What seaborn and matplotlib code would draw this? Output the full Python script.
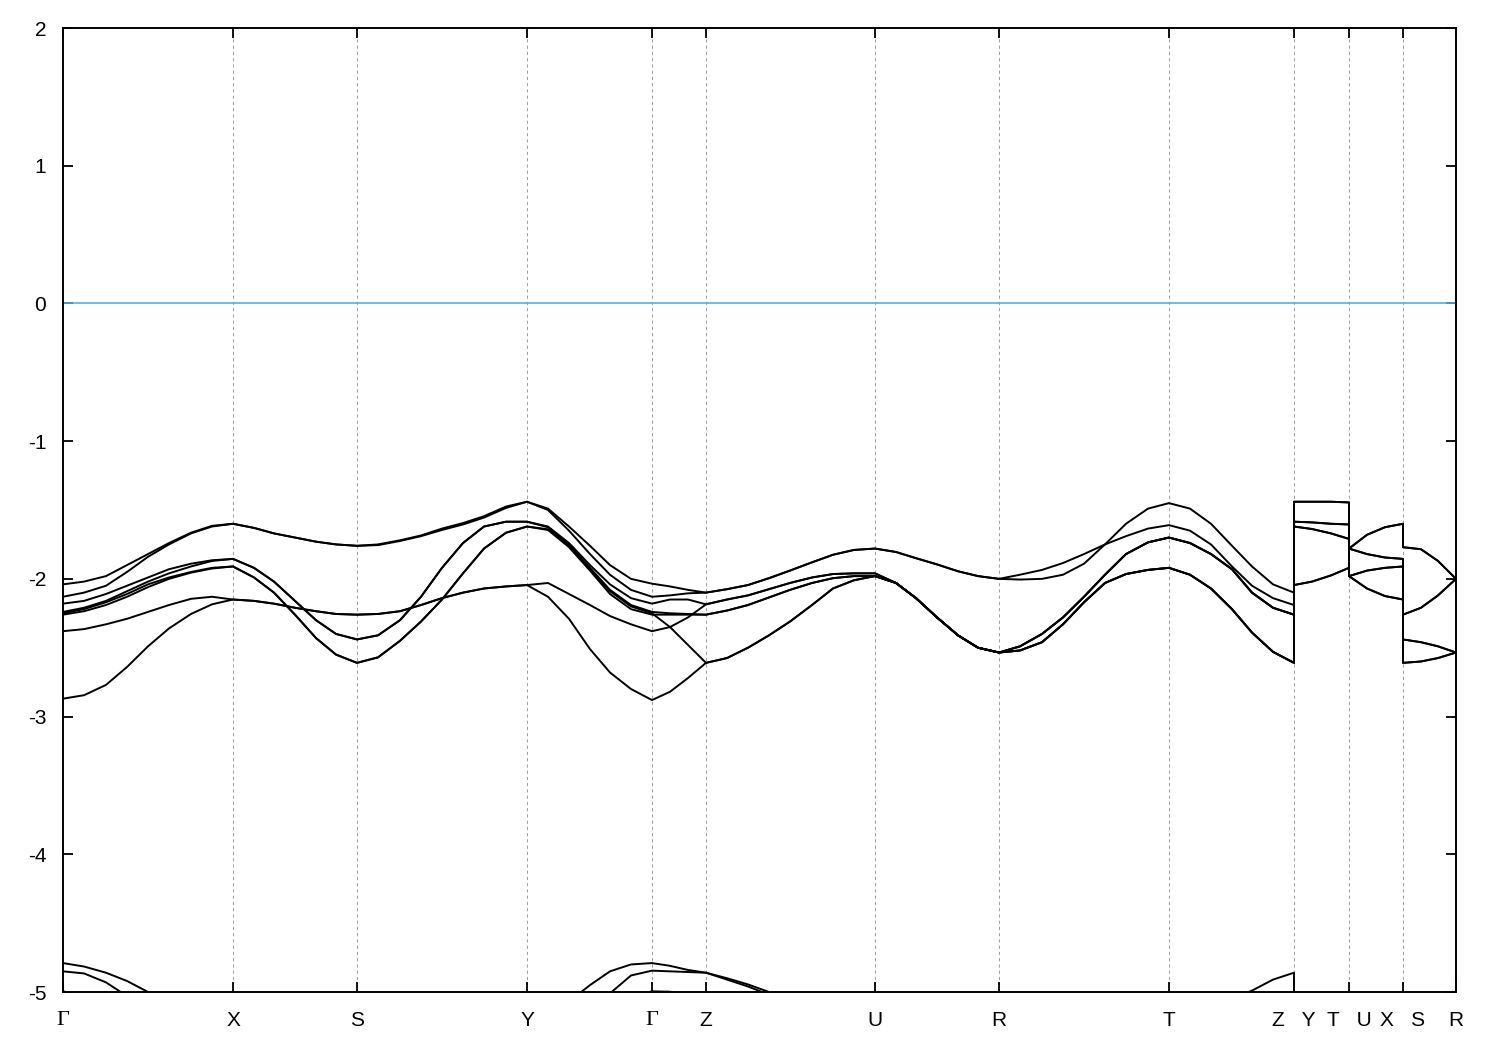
import matplotlib
matplotlib.use("Agg")
import matplotlib.pyplot as plt
import pandas as pd
import seaborn as sns

# high-symmetry points along the path
kpts = [0.00, 1.70, 2.94, 4.64, 5.89, 6.43, 8.12, 9.36, 11.06, 12.31, 12.86, 13.40, 13.93]
klabels = ["Γ", "X", "S", "Y", "Γ", "Z", "U", "R", "T", "Z   Y", "T   U", "X   S", "R"]

# sampled k positions (a repeated k is a jump at a break of the path)
k = [0.00, 0.21, 0.43, 0.64, 0.85, 1.06, 1.28, 1.49, 1.70,      # G-X
     1.91, 2.11, 2.32, 2.53, 2.73, 2.94,                        # X-S
     3.15, 3.37, 3.58, 3.79, 4.00, 4.21, 4.43, 4.64,            # S-Y
     4.85, 5.06, 5.27, 5.47, 5.68, 5.89,                        # Y-G
     6.07, 6.25, 6.43,                                          # G-Z
     6.64, 6.85, 7.06, 7.27, 7.49, 7.70, 7.91, 8.12,            # Z-U
     8.33, 8.53, 8.74, 8.95, 9.15, 9.36,                        # U-R
     9.57, 9.79, 10.00, 10.21, 10.42, 10.63, 10.85, 11.06,      # R-T
     11.27, 11.48, 11.69, 11.89, 12.10, 12.31,                  # T-Z
     12.31, 12.49, 12.68, 12.86,                                # Y-T
     12.86, 13.04, 13.22, 13.40,                                # U-X
     13.40, 13.58, 13.75, 13.93]                                # S-R

band1 = [-2.04, -2.02, -1.98, -1.90, -1.82, -1.74, -1.665, -1.615, -1.60,
         -1.63, -1.67, -1.70, -1.73, -1.75, -1.76,
         -1.75, -1.72, -1.685, -1.635, -1.595, -1.545, -1.475, -1.44,
         -1.49, -1.62, -1.76, -1.90, -2.00, -2.035,
         -2.055, -2.08, -2.10,
         -2.075, -2.045, -1.995, -1.94, -1.88, -1.825, -1.79, -1.78,
         -1.805, -1.85, -1.895, -1.945, -1.98, -2.00,
         -2.005, -2.00, -1.97, -1.89, -1.75, -1.60, -1.49, -1.45,
         -1.49, -1.60, -1.76, -1.91, -2.04, -2.10,
         -1.44, -1.44, -1.44, -1.445,
         -1.78, -1.68, -1.625, -1.60,
         -1.77, -1.785, -1.87, -2.00]
band2 = [-2.13, -2.10, -2.05, -1.95, -1.84, -1.75, -1.67, -1.62, -1.60,
         -1.63, -1.67, -1.70, -1.73, -1.75, -1.76,
         -1.755, -1.725, -1.69, -1.645, -1.605, -1.555, -1.485, -1.44,
         -1.50, -1.65, -1.82, -1.97, -2.08, -2.13,
         -2.12, -2.105, -2.10,
         -2.075, -2.045, -1.995, -1.94, -1.88, -1.825, -1.79, -1.78,
         -1.805, -1.85, -1.895, -1.945, -1.98, -2.00,
         -1.97, -1.935, -1.885, -1.82, -1.75, -1.69, -1.635, -1.61,
         -1.65, -1.75, -1.91, -2.05, -2.14, -2.19,
         -1.44, -1.44, -1.44, -1.445,
         -1.78, -1.68, -1.625, -1.60,
         -1.77, -1.785, -1.87, -2.00]
band3 = [-2.18, -2.16, -2.11, -2.05, -1.99, -1.93, -1.89, -1.865, -1.855,
         -1.92, -2.02, -2.16, -2.30, -2.40, -2.44,
         -2.41, -2.30, -2.13, -1.92, -1.74, -1.62, -1.585, -1.585,
         -1.62, -1.74, -1.90, -2.04, -2.14, -2.18,
         -2.15, -2.15, -2.185,
         -2.15, -2.12, -2.075, -2.03, -1.99, -1.965, -1.96, -1.96,
         -2.03, -2.14, -2.28, -2.41, -2.50, -2.535,
         -2.49, -2.40, -2.28, -2.13, -1.97, -1.82, -1.735, -1.70,
         -1.74, -1.82, -1.93, -2.10, -2.21, -2.26,
         -1.585, -1.59, -1.60, -1.605,
         -1.78, -1.82, -1.845, -1.855,
         -2.44, -2.46, -2.49, -2.535]
band4 = [-2.24, -2.21, -2.16, -2.09, -2.02, -1.96, -1.91, -1.87, -1.855,
         -1.92, -2.02, -2.16, -2.30, -2.40, -2.44,
         -2.41, -2.30, -2.13, -1.92, -1.74, -1.62, -1.585, -1.585,
         -1.625, -1.75, -1.92, -2.08, -2.19, -2.24,
         -2.25, -2.255, -2.26,
         -2.23, -2.19, -2.135, -2.08, -2.03, -1.995, -1.98, -1.98,
         -2.03, -2.14, -2.28, -2.41, -2.50, -2.535,
         -2.49, -2.40, -2.28, -2.13, -1.97, -1.82, -1.735, -1.70,
         -1.74, -1.82, -1.93, -2.10, -2.21, -2.26,
         -1.585, -1.59, -1.60, -1.605,
         -1.78, -1.82, -1.845, -1.855,
         -2.44, -2.46, -2.49, -2.535]
band5 = [-2.25, -2.22, -2.17, -2.11, -2.04, -1.99, -1.95, -1.92, -1.91,
         -1.99, -2.10, -2.26, -2.43, -2.55, -2.61,
         -2.57, -2.45, -2.31, -2.15, -1.96, -1.78, -1.665, -1.62,
         -1.64, -1.76, -1.93, -2.09, -2.20, -2.25,
         -2.35, -2.48, -2.61,
         -2.575, -2.50, -2.41, -2.31, -2.19, -2.07, -2.01, -1.98,
         -2.03, -2.14, -2.28, -2.41, -2.50, -2.535,
         -2.49, -2.40, -2.28, -2.13, -1.97, -1.82, -1.735, -1.70,
         -1.74, -1.82, -1.93, -2.10, -2.21, -2.26,
         -1.62, -1.638, -1.67, -1.71,
         -1.98, -1.94, -1.92, -1.91,
         -2.61, -2.60, -2.575, -2.535]
band6 = [-2.26, -2.235, -2.19, -2.13, -2.06, -2.00, -1.955, -1.925, -1.91,
         -1.99, -2.10, -2.26, -2.43, -2.55, -2.61,
         -2.57, -2.45, -2.31, -2.15, -1.96, -1.78, -1.665, -1.62,
         -1.645, -1.77, -1.94, -2.11, -2.22, -2.26,
         -2.26, -2.26, -2.26,
         -2.23, -2.19, -2.135, -2.08, -2.03, -1.995, -1.98, -1.98,
         -2.03, -2.14, -2.28, -2.41, -2.50, -2.535,
         -2.52, -2.46, -2.33, -2.17, -2.03, -1.965, -1.935, -1.92,
         -1.97, -2.07, -2.22, -2.39, -2.53, -2.61,
         -1.62, -1.638, -1.67, -1.71,
         -1.98, -1.94, -1.92, -1.91,
         -2.61, -2.60, -2.575, -2.535]
band7 = [-2.38, -2.365, -2.33, -2.29, -2.24, -2.19, -2.145, -2.13, -2.15,
         -2.16, -2.18, -2.21, -2.235, -2.255, -2.26,
         -2.255, -2.235, -2.19, -2.14, -2.10, -2.07, -2.055, -2.045,
         -2.03, -2.11, -2.19, -2.27, -2.33, -2.38,
         -2.35, -2.28, -2.185,
         -2.15, -2.12, -2.075, -2.03, -1.99, -1.965, -1.96, -1.96,
         -2.03, -2.14, -2.28, -2.41, -2.50, -2.535,
         -2.52, -2.46, -2.33, -2.17, -2.03, -1.965, -1.935, -1.92,
         -1.97, -2.07, -2.22, -2.39, -2.53, -2.61,
         -2.045, -2.02, -1.975, -1.92,
         -1.98, -2.07, -2.125, -2.15,
         -2.26, -2.21, -2.12, -2.00]
band8 = [-2.87, -2.845, -2.77, -2.64, -2.49, -2.36, -2.255, -2.185, -2.15,
         -2.16, -2.18, -2.21, -2.235, -2.255, -2.26,
         -2.255, -2.235, -2.19, -2.14, -2.10, -2.07, -2.055, -2.045,
         -2.13, -2.29, -2.51, -2.68, -2.80, -2.88,
         -2.82, -2.72, -2.61,
         -2.575, -2.50, -2.41, -2.31, -2.19, -2.07, -2.01, -1.98,
         -2.03, -2.14, -2.28, -2.41, -2.50, -2.535,
         -2.52, -2.46, -2.33, -2.17, -2.03, -1.965, -1.935, -1.92,
         -1.97, -2.07, -2.22, -2.39, -2.53, -2.61,
         -2.045, -2.02, -1.975, -1.92,
         -1.98, -2.07, -2.125, -2.15,
         -2.26, -2.21, -2.12, -2.00]

# lower bands, mostly below the window
deep1 = [-4.79, -4.815, -4.86, -4.92, -5.00, -5.10, -5.20, -5.30, -5.35,
         -5.40, -5.45, -5.45, -5.45, -5.45, -5.45,
         -5.45, -5.45, -5.45, -5.45, -5.40, -5.35, -5.30, -5.25,
         -5.17, -5.07, -4.95, -4.85, -4.80, -4.79,
         -4.81, -4.84, -4.86,
         -4.90, -4.945, -5.00, -5.08, -5.16, -5.24, -5.30, -5.35,
         -5.40, -5.45, -5.45, -5.45, -5.45, -5.45,
         -5.45, -5.45, -5.45, -5.45, -5.40, -5.35, -5.30, -5.25,
         -5.20, -5.12, -5.05, -4.99, -4.91, -4.86,
         -5.30, -5.30, -5.30, -5.30,
         -5.40, -5.40, -5.40, -5.40,
         -5.40, -5.40, -5.40, -5.40]
deep2 = [-4.85, -4.865, -4.93, -5.03, -5.12, -5.20, -5.28, -5.35, -5.40,
         -5.45, -5.50, -5.50, -5.50, -5.50, -5.50,
         -5.50, -5.50, -5.50, -5.50, -5.45, -5.42, -5.38, -5.35,
         -5.30, -5.20, -5.10, -5.01, -4.88, -4.845,
         -4.85, -4.855, -4.86,
         -4.91, -4.96, -5.02, -5.10, -5.18, -5.26, -5.32, -5.37,
         -5.42, -5.46, -5.50, -5.50, -5.50, -5.50,
         -5.50, -5.50, -5.50, -5.50, -5.48, -5.45, -5.42, -5.40,
         -5.38, -5.34, -5.30, -5.25, -5.20, -5.15,
         -5.40, -5.40, -5.40, -5.40,
         -5.45, -5.45, -5.45, -5.45,
         -5.45, -5.45, -5.45, -5.45]
deep3 = [-4.995, -5.03, -5.08, -5.14, -5.20, -5.26, -5.32, -5.38, -5.42,
         -5.45, -5.50, -5.55, -5.55, -5.55, -5.55,
         -5.55, -5.55, -5.55, -5.55, -5.50, -5.45, -5.40, -5.35,
         -5.30, -5.25, -5.18, -5.10, -5.03, -4.995,
         -4.998, -5.02, -5.05,
         -5.10, -5.15, -5.20, -5.28, -5.35, -5.40, -5.45, -5.50,
         -5.55, -5.55, -5.55, -5.55, -5.55, -5.55,
         -5.55, -5.55, -5.55, -5.55, -5.55, -5.55, -5.55, -5.55,
         -5.50, -5.45, -5.40, -5.35, -5.30, -5.25,
         -5.50, -5.50, -5.50, -5.50,
         -5.55, -5.55, -5.55, -5.55,
         -5.55, -5.55, -5.55, -5.55]

bands = {"b1": band1, "b2": band2, "b3": band3, "b4": band4, "b5": band5,
         "b6": band6, "b7": band7, "b8": band8,
         "d1": deep1, "d2": deep2, "d3": deep3}

rows = []
for name, vals in bands.items():
    for kk, e in zip(k, vals):
        rows.append({"k": kk, "E": e, "band": name})
df = pd.DataFrame(rows)

sns.set_style("ticks")
plt.rcParams["font.family"] = ["Liberation Sans", "DejaVu Sans"]
plt.rcParams["axes.unicode_minus"] = False

fig = plt.figure(figsize=(15, 10.5), dpi=100)
ax = fig.add_axes([63 / 1500, 1 - 992 / 1050, (1456 - 63) / 1500, (992 - 28) / 1050])

for x in kpts[1:-1]:
    ax.axvline(x, color="#a0a0a0", lw=0.75, ls=(0, (3, 3)), zorder=0)
ax.axhline(0, color="#4fb0e6", lw=1.2, zorder=1)

sns.lineplot(data=df, x="k", y="E", units="band", estimator=None, sort=False,
             color="black", lw=1.4, ax=ax, legend=False)

ax.set_xlim(kpts[0], kpts[-1])
ax.set_ylim(-5, 2)
ax.set_yticks(range(-5, 3))
ax.set_xticks(kpts)
ax.set_xticklabels(klabels)
ax.set_xlabel("")
ax.set_ylabel("")

ax.tick_params(axis="both", direction="in", length=7, width=1.3,
               labelsize=15, colors="black")
ax.tick_params(axis="y", right=True, pad=12)
ax.tick_params(axis="x", top=True, pad=14)
for lab in ax.get_xticklabels():
    if "Γ" in lab.get_text():
        lab.set_fontfamily("Liberation Serif")
        lab.set_fontsize(16)
for sp in ax.spines.values():
    sp.set_visible(True)
    sp.set_linewidth(1.4)
    sp.set_color("black")

fig.savefig("out.png", dpi=100)
